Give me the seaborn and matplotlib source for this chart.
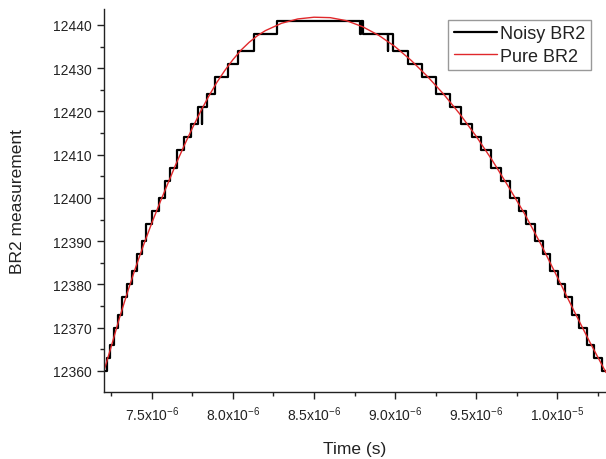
import numpy as np
import pandas as pd
import matplotlib
matplotlib.use("Agg")
import matplotlib.pyplot as plt
from matplotlib.ticker import FixedLocator, MultipleLocator
import seaborn as sns

# ---- data (time in microseconds) ----
pure_time_us = [7.204, 7.25, 7.30, 7.35, 7.40, 7.45, 7.50, 7.55, 7.60, 7.65, 7.70,
                7.75, 7.80, 7.85, 7.90, 7.95, 8.00, 8.05, 8.10, 8.15, 8.20, 8.30,
                8.40, 8.50, 8.60, 8.70, 8.80, 8.90, 9.00, 9.10, 9.20, 9.30, 9.40,
                9.50, 9.60, 9.70, 9.80, 9.90, 10.00, 10.10, 10.20, 10.302]
pure_values = [12360.0, 12365.8, 12372.3, 12378.3, 12384.0, 12389.3, 12394.3,
               12399.0, 12403.5, 12408.0, 12412.2, 12416.2, 12420.0, 12423.5,
               12426.7, 12429.5, 12432.0, 12434.2, 12436.0, 12437.5, 12438.7,
               12440.4, 12441.4, 12441.8, 12441.7, 12441.0, 12439.6, 12437.6,
               12435.0, 12431.8, 12428.1, 12424.0, 12419.4, 12414.3, 12408.7,
               12402.6, 12396.3, 12389.3, 12381.8, 12374.2, 12366.8, 12359.6]

noisy_time_us = [7.204, 7.225, 7.243, 7.263, 7.288, 7.314, 7.346, 7.375, 7.405,
                 7.437, 7.466, 7.502, 7.544, 7.581, 7.612, 7.654, 7.696, 7.740,
                 7.785, 7.806, 7.810, 7.839, 7.892, 7.968, 8.028, 8.127, 8.270,
                 8.785, 8.789, 8.805, 8.954, 8.958, 8.986, 9.079, 9.165, 9.252,
                 9.340, 9.408, 9.476, 9.531, 9.595, 9.652, 9.710, 9.765, 9.810,
                 9.865, 9.911, 9.958, 10.004, 10.048, 10.092, 10.137, 10.184,
                 10.230, 10.277, 10.302]
noisy_values = [12360, 12363, 12366, 12370, 12373, 12377, 12380, 12383, 12387,
                12390, 12394, 12397, 12400, 12404, 12407, 12411, 12414, 12417,
                12421, 12417, 12421, 12424, 12428, 12431, 12434, 12438, 12441,
                12438, 12441, 12438, 12434, 12438, 12434, 12431, 12428, 12424,
                12421, 12417, 12414, 12411, 12407, 12404, 12400, 12397, 12394,
                12390, 12387, 12383, 12380, 12377, 12373, 12370, 12366,
                12363, 12360, 12360]

xtick_values_us = [7.5, 8.0, 8.5, 9.0, 9.5, 10.0]
xtick_labels = [r"7.5x10$^{\mathregular{-6}}$", r"8.0x10$^{\mathregular{-6}}$",
                r"8.5x10$^{\mathregular{-6}}$", r"9.0x10$^{\mathregular{-6}}$",
                r"9.5x10$^{\mathregular{-6}}$", r"1.0x10$^{\mathregular{-5}}$"]
ytick_values = [12360, 12370, 12380, 12390, 12400, 12410, 12420, 12430, 12440]

# ---- style ----
sns.set_style("ticks")
plt.rcParams["font.family"] = ["Liberation Sans", "DejaVu Sans"]
plt.rcParams["mathtext.fontset"] = "custom"
plt.rcParams["mathtext.rm"] = "Liberation Sans"
plt.rcParams["mathtext.it"] = "Liberation Sans"
plt.rcParams["mathtext.bf"] = "Liberation Sans"

noisy_df = pd.DataFrame({"t": np.array(noisy_time_us) * 1e-6, "v": noisy_values})
pure_df = pd.DataFrame({"t": np.array(pure_time_us) * 1e-6, "v": pure_values})

fig = plt.figure(figsize=(6.06, 4.60), dpi=100)
ax = fig.add_axes([104 / 606, (460 - 393) / 460, 1 - 104 / 606, (393 - 10) / 460])

sns.lineplot(data=noisy_df, x="t", y="v", ax=ax, color="black", linewidth=1.6,
             drawstyle="steps-post", estimator=None, sort=False, label="Noisy BR2")
sns.lineplot(data=pure_df, x="t", y="v", ax=ax, color="#e0282b", linewidth=1.0,
             estimator=None, sort=False, label="Pure BR2")

ax.set_xlim(7.204e-6, 10.302e-6)
ax.set_ylim(12355.1, 12443.7)

ax.xaxis.set_major_locator(FixedLocator([v * 1e-6 for v in xtick_values_us]))
ax.set_xticklabels(xtick_labels)
ax.xaxis.set_minor_locator(MultipleLocator(0.25e-6))
ax.yaxis.set_major_locator(FixedLocator(ytick_values))
ax.yaxis.set_minor_locator(MultipleLocator(5))

ax.tick_params(axis="both", which="major", direction="out", length=5, width=1.0,
               labelsize=10, colors="#222222", pad=4)
ax.tick_params(axis="both", which="minor", direction="out", length=3, width=1.0,
               colors="#222222")

for side in ["top", "right"]:
    ax.spines[side].set_visible(False)
for side in ["left", "bottom"]:
    ax.spines[side].set_linewidth(1.0)
    ax.spines[side].set_color("#222222")

ax.set_xlabel("Time (s)", fontsize=12.5, color="#222222", labelpad=13)
ax.set_ylabel("BR2 measurement", fontsize=12.5, color="#222222", labelpad=20)

leg = ax.legend(loc="upper right", bbox_to_anchor=(590.6 / 606, 1 - 20.7 / 460),
                bbox_transform=fig.transFigure, borderaxespad=0, fontsize=13,
                frameon=True, fancybox=False, handlelength=2.4, handletextpad=0.12,
                labelspacing=0.28, borderpad=0.32)
leg.get_frame().set_edgecolor("#808080")
leg.get_frame().set_linewidth(1.0)
for txt in leg.get_texts():
    txt.set_color("#222222")

fig.savefig("out.png", dpi=100)
